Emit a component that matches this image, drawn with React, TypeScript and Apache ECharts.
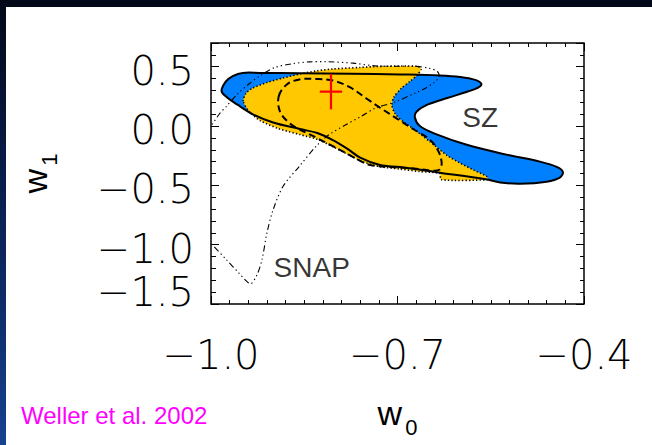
import React, { useEffect, useRef } from "react";
import * as echarts from "echarts";

// ---- tick labels ----
const xTicks = [-1.0, -0.7, -0.4];
const xTickLabels = ["\u22121.0", "\u22120.7", "\u22120.4"];
const yTicks = [0.5, 0.0, -0.5, -1.0, -1.5];
const yTickLabels = ["0.5", "0.0", "\u22120.5", "\u22121.0", "\u22121.5"];

// ---- SZ contour (blue, solid outline) [w0, w1] ----
const szContour: [number, number][] = [
  [-0.983, 0.294], [-0.976, 0.376], [-0.965, 0.421], [-0.949, 0.448], [-0.921, 0.448],
  [-0.857, 0.445], [-0.776, 0.441], [-0.696, 0.435], [-0.632, 0.427], [-0.599, 0.414],
  [-0.575, 0.389], [-0.565, 0.355], [-0.571, 0.321], [-0.587, 0.291], [-0.62, 0.236],
  [-0.651, 0.182], [-0.669, 0.122], [-0.672, 0.072], [-0.664, 0.0], [-0.638, -0.068],
  [-0.59, -0.156], [-0.525, -0.241], [-0.471, -0.3], [-0.443, -0.346], [-0.434, -0.388],
  [-0.439, -0.435], [-0.46, -0.469], [-0.503, -0.486], [-0.535, -0.475], [-0.558, -0.448],
  [-0.632, -0.393], [-0.696, -0.346], [-0.728, -0.329], [-0.76, -0.266], [-0.781, -0.19],
  [-0.804, -0.118], [-0.829, -0.059], [-0.857, -0.025], [-0.9, 0.03], [-0.932, 0.097],
  [-0.958, 0.182], [-0.974, 0.241],
];

// ---- combined contour (yellow, dotted outline) ----
const combinedContour: [number, number][] = [
  [-0.948, 0.209], [-0.944, 0.274], [-0.934, 0.317], [-0.91, 0.367], [-0.884, 0.405],
  [-0.857, 0.439], [-0.83, 0.465], [-0.804, 0.481], [-0.76, 0.494], [-0.728, 0.503],
  [-0.667, 0.503], [-0.662, 0.477], [-0.669, 0.427], [-0.68, 0.376], [-0.694, 0.317],
  [-0.706, 0.241], [-0.709, 0.173], [-0.704, 0.106], [-0.693, 0.046], [-0.675, -0.021],
  [-0.648, -0.131], [-0.62, -0.249], [-0.599, -0.313], [-0.577, -0.372], [-0.556, -0.426],
  [-0.556, -0.452], [-0.63, -0.452], [-0.632, -0.401], [-0.664, -0.384], [-0.696, -0.363],
  [-0.728, -0.342], [-0.757, -0.3], [-0.776, -0.249], [-0.801, -0.182], [-0.828, -0.114],
  [-0.857, -0.072], [-0.892, -0.021], [-0.921, 0.046], [-0.94, 0.131],
];

// ---- dashed contour ----
const dashedContour: [number, number][] = [
  [-0.891, 0.252], [-0.878, 0.351], [-0.858, 0.393], [-0.831, 0.397], [-0.804, 0.384],
  [-0.776, 0.325], [-0.75, 0.232], [-0.728, 0.154], [-0.701, 0.063], [-0.675, -0.025],
  [-0.648, -0.114], [-0.634, -0.215], [-0.629, -0.308], [-0.632, -0.367], [-0.645, -0.376],
  [-0.67, -0.359], [-0.71, -0.346], [-0.744, -0.329], [-0.764, -0.283], [-0.784, -0.224],
  [-0.809, -0.156], [-0.831, -0.097], [-0.857, -0.03], [-0.873, 0.021], [-0.889, 0.122],
];

// ---- SNAP contour (dash-dot, open/clipped) ----
const snapContour: [number, number][] = [
  [-1.01, -0.08], [-0.998, 0.013], [-0.986, 0.106], [-0.975, 0.167], [-0.958, 0.266],
  [-0.938, 0.359], [-0.918, 0.435], [-0.898, 0.492], [-0.871, 0.524], [-0.841, 0.541],
  [-0.811, 0.542], [-0.771, 0.53], [-0.738, 0.508], [-0.704, 0.504], [-0.67, 0.503],
  [-0.648, 0.486], [-0.636, 0.46], [-0.633, 0.418], [-0.641, 0.367], [-0.656, 0.317],
  [-0.671, 0.279], [-0.704, 0.203], [-0.735, 0.152], [-0.758, 0.083], [-0.784, 0.008],
  [-0.811, -0.076], [-0.831, -0.171], [-0.858, -0.34], [-0.884, -0.508], [-0.9, -0.705],
  [-0.91, -0.9], [-0.918, -1.128], [-0.926, -1.254], [-0.936, -1.33], [-0.945, -1.296],
  [-0.955, -1.24], [-0.975, -1.128], [-0.998, -1.001], [-1.01, -0.942],
];

// ---- fiducial model cross ----
const fiducial: [number, number] = [-0.807, 0.29];
const fiducialErr: [number, number] = [0.018, 0.15];

// ---- annotations ----
const annotations: [number, number, string][] = [
  [-0.567, 0.076, "SZ"],
  [-0.838, -1.195, "SNAP"],
];

const TICK_FONT = "'DejaVu Sans', sans-serif";
const TEXT_FONT = "'Liberation Sans', Arial, sans-serif";

function tickFmt(ticks: number[], labels: string[]) {
  return (v: number) => {
    const i = ticks.findIndex((t) => Math.abs(t - v) < 1e-6);
    return i >= 0 ? labels[i] : "";
  };
}

function shapeSeries(pts: [number, number][], kind: "polygon" | "polyline", style: any, smooth: number, z: number) {
  return {
    type: "custom",
    coordinateSystem: "cartesian2d",
    clip: true,
    silent: true,
    z,
    data: pts,
    encode: { x: 0, y: 1 },
    renderItem: (params: any, api: any) => {
      if (params.dataIndex !== 0) return null;
      return {
        type: kind,
        shape: { points: pts.map((p) => api.coord(p)), smooth },
        style,
      };
    },
  };
}

const nameRich = {
  w: { fontSize: 34, fontFamily: TEXT_FONT, color: "#000" },
  s: { fontSize: 22, fontFamily: TEXT_FONT, color: "#000", padding: [28, 0, 0, 3] },
};

export default function App() {
  const ref = useRef<HTMLDivElement>(null);
  useEffect(() => {
    if (!ref.current) return;
    const chart = echarts.init(ref.current, undefined, { renderer: "svg" });
    const tickStyle = { color: "#000", width: 1 };
    const xLabel = {
      formatter: tickFmt(xTicks, xTickLabels),
      margin: 31,
      fontSize: 40,
      fontFamily: TICK_FONT,
      fontWeight: 200 as any,
      color: "#000",
    };
    const yFmt = (v: number) => {
      const s = tickFmt(yTicks, yTickLabels)(v);
      if (!s) return "";
      return Math.abs(v + 1.5) < 1e-6 ? `{lo|${s}}` : `{n|${s}}`;
    };
    const yRichBase = { fontSize: 40, lineHeight: 30, fontFamily: TICK_FONT, fontWeight: 200, color: "#000" };
    const hiddenLine = { show: false, onZero: false };
    chart.setOption({
      animation: false,
      backgroundColor: "transparent",
      grid: {
        left: 211, top: 43, width: 373, height: 261,
        show: true, borderColor: "#000", borderWidth: 1.5, backgroundColor: "#fff",
        containLabel: false,
      },
      xAxis: [
        {
          type: "value", position: "bottom", min: -1.0, max: -0.4, interval: 0.3,
          splitLine: { show: false }, axisLine: hiddenLine,
          axisTick: { show: true, inside: true, length: 8, lineStyle: tickStyle },
          minorTick: { show: true, splitNumber: 10, length: 4, lineStyle: tickStyle },
          axisLabel: xLabel,
          name: "{w|w}{s|0}", nameLocation: "middle", nameGap: 84,
          nameTextStyle: { rich: nameRich },
        },
        {
          type: "value", position: "top", min: -1.0, max: -0.4, interval: 0.3,
          splitLine: { show: false }, axisLine: hiddenLine,
          axisTick: { show: true, inside: true, length: 8, lineStyle: tickStyle },
          minorTick: { show: true, splitNumber: 10, length: 4, lineStyle: tickStyle },
          axisLabel: { show: false },
        },
      ],
      yAxis: [
        {
          type: "value", position: "left", min: -1.5, max: 0.7, interval: 0.5,
          splitLine: { show: false }, axisLine: hiddenLine,
          axisTick: { show: true, inside: true, length: 8, lineStyle: tickStyle },
          minorTick: { show: true, splitNumber: 5, length: 5, lineStyle: tickStyle },
          axisLabel: {
            formatter: yFmt, margin: 17, fontSize: 40, fontFamily: TICK_FONT, color: "#000",
            rich: {
              n: { ...yRichBase, padding: [8, 0, 0, 0] },
              lo: { ...yRichBase, padding: [0, 0, 24, 0] },
            },
          },
          name: "{w|w}{s|1}", nameLocation: "middle", nameGap: 151, nameRotate: 90,
          nameTextStyle: { rich: nameRich },
        },
        {
          type: "value", position: "right", min: -1.5, max: 0.7, interval: 0.5,
          splitLine: { show: false }, axisLine: hiddenLine,
          axisTick: { show: true, inside: true, length: 8, lineStyle: tickStyle },
          minorTick: { show: true, splitNumber: 5, length: 4, lineStyle: tickStyle },
          axisLabel: { show: false },
        },
      ],
      graphic: [
        {
          type: "text", left: 21, top: 403, silent: true,
          style: { text: "Weller et al. 2002", fill: "#ff00ff", fontSize: 24, fontFamily: TEXT_FONT },
        },
      ],
      series: [
        shapeSeries(szContour, "polygon", { fill: "#0080ff", stroke: "none" }, 0.35, 2),
        shapeSeries(combinedContour, "polygon", { fill: "#ffc800", stroke: "#000", lineWidth: 1.6, lineDash: [1.3, 2.2] }, 0.25, 3),
        shapeSeries(szContour, "polygon", { fill: "none", stroke: "#000", lineWidth: 2 }, 0.35, 4),
        shapeSeries(dashedContour, "polygon", { fill: "none", stroke: "#000", lineWidth: 2, lineDash: [7, 4] }, 0.35, 5),
        shapeSeries(snapContour, "polyline", { fill: "none", stroke: "#000", lineWidth: 1.1, lineDash: [6, 3, 1.3, 3, 1.3, 3, 1.3, 3] }, 0.3, 6),
        {
          type: "custom",
          coordinateSystem: "cartesian2d",
          clip: true,
          silent: true,
          z: 7,
          data: [fiducial],
          encode: { x: 0, y: 1 },
          renderItem: (params: any, api: any) => {
            const [x, y] = [api.value(0), api.value(1)];
            const l = api.coord([x - fiducialErr[0], y]);
            const r = api.coord([x + fiducialErr[0], y]);
            const b = api.coord([x, y - fiducialErr[1]]);
            const t = api.coord([x, y + fiducialErr[1]]);
            const st = { stroke: "#ff0000", lineWidth: 2.2 };
            return {
              type: "group",
              children: [
                { type: "line", shape: { x1: l[0], y1: l[1], x2: r[0], y2: r[1] }, style: st },
                { type: "line", shape: { x1: b[0], y1: b[1], x2: t[0], y2: t[1] }, style: st },
              ],
            };
          },
        },
        {
          type: "scatter",
          z: 8,
          silent: true,
          symbolSize: 0,
          data: annotations.map((a) => [a[0], a[1], a[2]]),
          label: {
            show: true,
            position: "inside",
            formatter: (p: any) => p.value[2],
            fontSize: 28,
            fontFamily: TEXT_FONT,
            color: "#000",
          },
        },
      ],
    });
    return () => chart.dispose();
  }, []);

  return (
    <div
      style={{
        position: "fixed", left: 0, top: 0, width: 652, height: 445, overflow: "hidden",
        background: "linear-gradient(to bottom, #030818 0%, #081a44 35%, #0e2d6a 70%, #164290 100%)",
      }}
    >
      <div style={{ position: "absolute", left: 6, top: 7, right: 0, bottom: 0, background: "#fff" }} />
      <div ref={ref} style={{ position: "absolute", left: 0, top: 0, width: 652, height: 445 }} />
    </div>
  );
}
